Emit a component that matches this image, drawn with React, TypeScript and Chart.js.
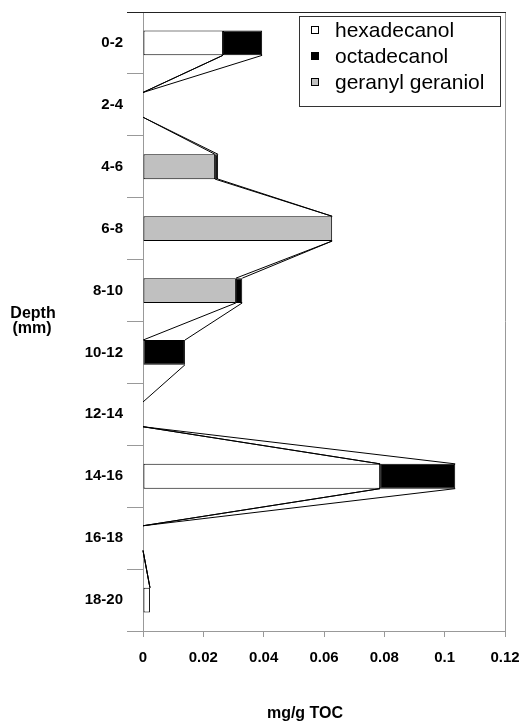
import React, { useEffect, useRef } from 'react';
import { Chart, registerables } from 'chart.js';

Chart.register(...registerables);

// ---- Data ----
const depthCategories = ['0-2', '2-4', '4-6', '6-8', '8-10', '10-12', '12-14', '14-16', '16-18', '18-20'];
const hexadecanol = [0.0265, 0, 0, 0, 0, 0, 0, 0.0786, 0, 0.0023];
const octadecanol = [0.013, 0, 0.001, 0, 0.0021, 0.0139, 0, 0.0249, 0, 0];
const geranylGeraniol = [0, 0, 0.0239, 0.0627, 0.0308, 0, 0, 0, 0, 0];
const xTickValues = [0, 0.02, 0.04, 0.06, 0.08, 0.1, 0.12];
const xTickLabels = ['0', '0.02', '0.04', '0.06', '0.08', '0.1', '0.12'];
const legendOrder = ['hexadecanol', 'octadecanol', 'geranyl geraniol'];
const yTitleLines = ['Depth', '(mm)'];
const xTitle = 'mg/g TOC';

const BOLD_FONT = 'Liberation Sans';

const seriesLinesPlugin = {
  id: 'seriesLines',
  afterDatasetsDraw(chart: any) {
    const ctx = chart.ctx;
    const xScale = chart.scales.x;
    const zeroPx = xScale.getPixelForValue(0);
    ctx.save();
    ctx.strokeStyle = '#000';
    ctx.lineWidth = 1;
    chart.data.datasets.forEach((_ds: any, d: number) => {
      const meta = chart.getDatasetMeta(d);
      for (let i = 0; i < meta.data.length - 1; i++) {
        const a: any = meta.data[i];
        const b: any = meta.data[i + 1];
        if (Math.abs(a.x - zeroPx) < 0.5 && Math.abs(b.x - zeroPx) < 0.5) continue;
        ctx.beginPath();
        ctx.moveTo(a.x, a.y + a.height / 2);
        ctx.lineTo(b.x, b.y - b.height / 2);
        ctx.stroke();
      }
    });
    ctx.restore();
  },
};

const framePlugin = {
  id: 'frame',
  afterDraw(chart: any) {
    const { ctx, chartArea } = chart;
    ctx.save();
    ctx.lineWidth = 1;
    ctx.strokeStyle = '#999';
    ctx.beginPath();
    ctx.moveTo(Math.round(chartArea.right) + 0.5, chartArea.top);
    ctx.lineTo(Math.round(chartArea.right) + 0.5, chartArea.bottom);
    ctx.stroke();
    ctx.strokeStyle = '#222';
    ctx.beginPath();
    ctx.moveTo(chartArea.left - 16, Math.round(chartArea.top) + 0.5);
    ctx.lineTo(chartArea.right + 1, Math.round(chartArea.top) + 0.5);
    ctx.stroke();
    ctx.restore();
  },
};

const customLegendPlugin = {
  id: 'customLegend',
  afterDraw(chart: any) {
    const { ctx, chartArea } = chart;
    const boxW = 201;
    const boxH = 90;
    const boxX = chartArea.right - 5 - boxW;
    const boxY = chartArea.top + 4;
    ctx.save();
    ctx.fillStyle = '#fff';
    ctx.fillRect(boxX, boxY, boxW, boxH);
    ctx.strokeStyle = '#333';
    ctx.lineWidth = 1;
    ctx.strokeRect(Math.round(boxX) + 0.5, Math.round(boxY) + 0.5, boxW, boxH);
    ctx.font = '21px "Liberation Sans", Arial, sans-serif';
    ctx.textBaseline = 'alphabetic';
    ctx.textAlign = 'left';
    legendOrder.forEach((label, i) => {
      const ds = chart.data.datasets.find((d: any) => d.label === label);
      const baseY = boxY + 21 + i * 26;
      const sqX = boxX + 12;
      const sqY = baseY - 11;
      ctx.fillStyle = ds.backgroundColor;
      ctx.fillRect(sqX, sqY, 7, 7);
      ctx.strokeStyle = '#000';
      ctx.strokeRect(sqX + 0.5, sqY + 0.5, 7, 7);
      ctx.fillStyle = '#000';
      ctx.fillText(label, boxX + 36, baseY);
    });
    ctx.restore();
  },
};

const titlesPlugin = {
  id: 'titles',
  afterDraw(chart: any) {
    const { ctx, chartArea } = chart;
    ctx.save();
    ctx.fillStyle = '#000';
    ctx.textAlign = 'center';
    ctx.textBaseline = 'alphabetic';
    ctx.font = `bold 16px "${BOLD_FONT}"`;
    const midY = (chartArea.top + chartArea.bottom) / 2;
    ctx.fillText(yTitleLines[0], 33, midY - 4);
    ctx.fillText(yTitleLines[1], 32, midY + 11);
    ctx.fillText(xTitle, 305, chart.height - 3);
    ctx.restore();
  },
};

export default function App() {
  const canvasRef = useRef<HTMLCanvasElement | null>(null);

  useEffect(() => {
    document.body.style.margin = '0';
    const canvas = canvasRef.current;
    if (!canvas) return;
    const tickFont = { family: BOLD_FONT, size: 15, weight: 'bold' as const };
    const chart = new Chart(canvas, {
      type: 'bar',
      data: {
        labels: depthCategories,
        datasets: [
          {
            label: 'hexadecanol',
            data: hexadecanol,
            backgroundColor: '#ffffff',
            borderColor: '#000',
            borderWidth: 1,
            borderSkipped: false,
          },
          {
            label: 'geranyl geraniol',
            data: geranylGeraniol,
            backgroundColor: '#c0c0c0',
            borderColor: '#000',
            borderWidth: 1,
            borderSkipped: false,
          },
          {
            label: 'octadecanol',
            data: octadecanol,
            backgroundColor: '#000000',
            borderColor: '#000',
            borderWidth: 1,
            borderSkipped: false,
          },
        ],
      },
      options: {
        indexAxis: 'y',
        responsive: false,
        animation: false,
        events: [],
        layout: { padding: { top: 12, right: 24, left: 0, bottom: 0 } },
        datasets: { bar: { categoryPercentage: 1, barPercentage: 0.4 } },
        plugins: {
          legend: { display: false },
          tooltip: { enabled: false },
          title: { display: false },
        },
        scales: {
          y: {
            type: 'category',
            stacked: true,
            offset: true,
            afterFit: (scale: any) => {
              scale.width = 143;
              scale.paddingTop = 0;
              scale.paddingBottom = 0;
            },
            grid: {
              offset: true,
              drawOnChartArea: false,
              tickLength: 16,
              color: '#999',
            },
            border: { color: '#999' },
            ticks: { padding: 4, color: '#000', font: tickFont },
          },
          x: {
            type: 'linear',
            stacked: true,
            min: 0,
            max: 0.12,
            afterBuildTicks: (scale: any) => {
              scale.ticks = xTickValues.map((v) => ({ value: v }));
            },
            afterFit: (scale: any) => {
              scale.height = 90;
              scale.paddingLeft = 0;
              scale.paddingRight = 0;
            },
            grid: {
              drawOnChartArea: false,
              tickLength: 6,
              color: '#999',
            },
            border: { color: '#999' },
            ticks: {
              padding: 12,
              color: '#000',
              font: tickFont,
              maxRotation: 0,
              autoSkip: false,
              callback: (_v: any, i: number) => xTickLabels[i],
            },
          },
        },
      },
      plugins: [seriesLinesPlugin, framePlugin, customLegendPlugin, titlesPlugin],
    });
    return () => chart.destroy();
  }, []);

  return (
    <div style={{ width: 529, height: 721 }}>
      <canvas ref={canvasRef} width={529} height={721} style={{ display: 'block' }} />
    </div>
  );
}
